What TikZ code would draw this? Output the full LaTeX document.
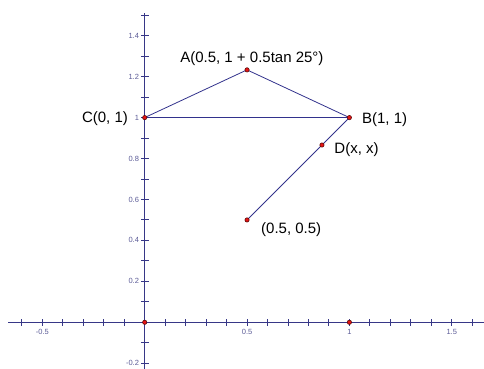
\documentclass[tikz,border=0pt]{standalone}
\usepackage{fontspec}
\setmainfont{Liberation Sans}
\definecolor{axiscol}{RGB}{55,55,135}
\definecolor{ticklabcol}{RGB}{90,90,150}
\definecolor{segcol}{RGB}{50,50,140}
\definecolor{ptfill}{RGB}{230,20,20}
\definecolor{ptdraw}{RGB}{90,10,10}
\begin{document}
\begin{tikzpicture}[x=204.7pt,y=204.7pt,
  axis/.style={draw=axiscol,line width=1.1pt},
  tickline/.style={draw=axiscol,line width=0.9pt},
  ticklab/.style={text=ticklabcol,font=\fontsize{7.5}{9}\selectfont,inner sep=0pt},
  seg/.style={draw=segcol,line width=0.8pt},
  ptdot/.style={circle,fill=ptfill,draw=ptdraw,line width=0.6pt,inner sep=0pt,minimum size=4.3pt},
  lab/.style={font=\fontsize{15}{17}\selectfont,inner sep=0pt,text=black}]
\useasboundingbox (-0.7069,-0.2281) rectangle (1.6576,1.5745);
% axes
\coordinate (xl) at (-0.667,0);
\coordinate (xr) at (1.6576,0);
\coordinate (yb) at (0,-0.2281);
\coordinate (yt) at (0,1.51);
\draw[axis] (xl) -- (xr);
\draw[axis] (yb) -- (yt);
\foreach \i in {-6,...,16} \draw[tickline] (\i/10,0) ++(0,-3.5pt) -- ++(0,7pt);
\foreach \i in {-2,...,15} \draw[tickline] (0,\i/10) ++(-3.5pt,0) -- ++(7.5pt,0);
% tick labels
\foreach \v/\t in {-0.5/-0.5,0.5/0.5,1/1,1.5/1.5}
  \node[ticklab,anchor=north] (xt\t) at (\v,-0.033) {\t};
\foreach \v/\t in {1.4/1.4,1.2/1.2,1/1,0.8/0.8,0.6/0.6,0.4/0.4,0.2/0.2,-0.2/-0.2}
  \node[ticklab,anchor=east] (yt\t) at (-0.027,\v) {\t};
% points
\coordinate (C) at (0,1);
\coordinate (B) at (1,1);
\coordinate (A) at (0.5,{1+0.5*tan(25)});
\coordinate (D) at (0.866,0.866);
\coordinate (E) at (0.5,0.5);
\coordinate (O) at (0,0);
\coordinate (X) at (1,0);
\draw[seg] (C) -- (A) -- (B) -- cycle;
\draw[seg] (B) -- (E);
\foreach \p in {C,B,A,D,E,O,X} \node[ptdot] (dot\p) at (\p) {};
% labels
\node[lab,anchor=base west] (labA) at (0.173,1.269) {A(0.5, 1 + 0.5tan 25°)};
\node[lab,anchor=base east] (labC) at (-0.081,0.976) {C(0, 1)};
\node[lab,anchor=base west] (labB) at (1.061,0.972) {B(1, 1)};
\node[lab,anchor=base west] (labD) at (0.926,0.826) {D(x, x)};
\node[lab,anchor=base west] (labE) at (0.568,0.435) {(0.5, 0.5)};
\end{tikzpicture}
\end{document}
